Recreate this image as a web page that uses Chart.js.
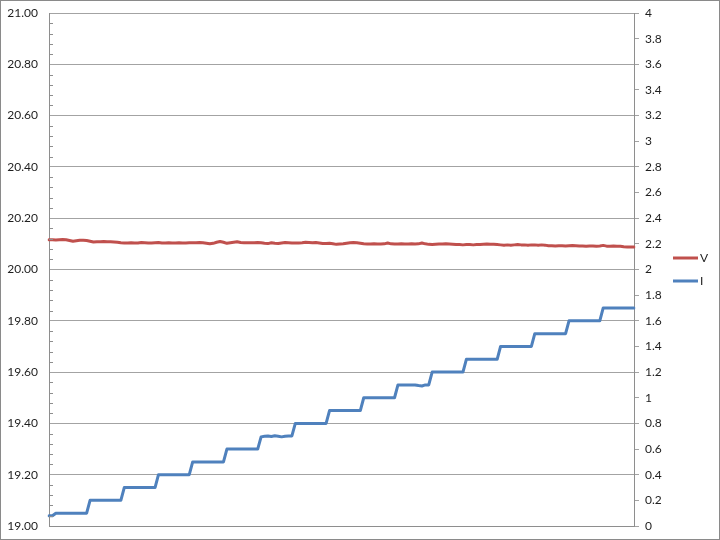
<!DOCTYPE html>
<html>
<head>
<meta charset="utf-8">
<title>V / I</title>
<script src="https://cdn.jsdelivr.net/npm/chart.js@4.4.1/dist/chart.umd.min.js"></script>
<style>
  html, body { margin: 0; padding: 0; background: #fff; }
  #wrap { width: 720px; height: 540px; }
</style>
</head>
<body>
<div id="wrap"><canvas id="chart" width="720" height="540"></canvas></div>
<script>
  // Voltage (left axis, V)
  var voltage = [
    20.116, 20.116, 20.115, 20.116, 20.117, 20.116, 20.113, 20.110, 20.112, 20.114,
    20.114, 20.113, 20.110, 20.107, 20.108, 20.108, 20.109, 20.108, 20.108, 20.107,
    20.106, 20.104, 20.103, 20.103, 20.104, 20.103, 20.103, 20.105, 20.104, 20.103,
    20.103, 20.104, 20.105, 20.103, 20.103, 20.104, 20.103, 20.103, 20.104, 20.103,
    20.103, 20.104, 20.104, 20.104, 20.105, 20.104, 20.102, 20.100, 20.102, 20.106,
    20.109, 20.106, 20.102, 20.104, 20.106, 20.108, 20.105, 20.104, 20.104, 20.104,
    20.104, 20.105, 20.104, 20.102, 20.101, 20.104, 20.102, 20.101, 20.103, 20.105,
    20.104, 20.103, 20.103, 20.103, 20.104, 20.106, 20.105, 20.104, 20.105, 20.103,
    20.101, 20.101, 20.102, 20.100, 20.098, 20.099, 20.100, 20.102, 20.104, 20.105,
    20.104, 20.102, 20.100, 20.099, 20.099, 20.100, 20.099, 20.099, 20.100, 20.103,
    20.100, 20.099, 20.099, 20.100, 20.099, 20.099, 20.100, 20.099, 20.100, 20.103,
    20.100, 20.098, 20.097, 20.098, 20.099, 20.099, 20.100, 20.099, 20.098, 20.097,
    20.097, 20.096, 20.097, 20.097, 20.096, 20.097, 20.097, 20.098, 20.099, 20.098,
    20.098, 20.097, 20.096, 20.095, 20.096, 20.095, 20.096, 20.097, 20.096, 20.096,
    20.095, 20.096, 20.096, 20.095, 20.096, 20.095, 20.093, 20.093, 20.092, 20.093,
    20.093, 20.092, 20.093, 20.094, 20.093, 20.092, 20.092, 20.091, 20.092, 20.092,
    20.091, 20.092, 20.094, 20.091, 20.091, 20.092, 20.091, 20.091, 20.089, 20.088,
    20.088, 20.088
  ];

  // Current (right axis, I)
  var current = [
    0.08, 0.08, 0.1, 0.1, 0.1, 0.1, 0.1, 0.1, 0.1, 0.1,
    0.1, 0.1, 0.2, 0.2, 0.2, 0.2, 0.2, 0.2, 0.2, 0.2,
    0.2, 0.2, 0.3, 0.3, 0.3, 0.3, 0.3, 0.3, 0.3, 0.3,
    0.3, 0.3, 0.4, 0.4, 0.4, 0.4, 0.4, 0.4, 0.4, 0.4,
    0.4, 0.4, 0.5, 0.5, 0.5, 0.5, 0.5, 0.5, 0.5, 0.5,
    0.5, 0.5, 0.6, 0.6, 0.6, 0.6, 0.6, 0.6, 0.6, 0.6,
    0.6, 0.6, 0.695, 0.7, 0.702, 0.698, 0.703, 0.7, 0.695, 0.7,
    0.702, 0.702, 0.8, 0.8, 0.8, 0.8, 0.8, 0.8, 0.8, 0.8,
    0.8, 0.8, 0.9, 0.9, 0.9, 0.9, 0.9, 0.9, 0.9, 0.9,
    0.9, 0.9, 1.0, 1.0, 1.0, 1.0, 1.0, 1.0, 1.0, 1.0,
    1.0, 1.0, 1.1, 1.1, 1.1, 1.1, 1.1, 1.1, 1.095, 1.092,
    1.1, 1.1, 1.2, 1.2, 1.2, 1.2, 1.2, 1.2, 1.2, 1.2,
    1.2, 1.2, 1.3, 1.3, 1.3, 1.3, 1.3, 1.3, 1.3, 1.3,
    1.3, 1.3, 1.4, 1.4, 1.4, 1.4, 1.4, 1.4, 1.4, 1.4,
    1.4, 1.4, 1.5, 1.5, 1.5, 1.5, 1.5, 1.5, 1.5, 1.5,
    1.5, 1.5, 1.6, 1.6, 1.6, 1.6, 1.6, 1.6, 1.6, 1.6,
    1.6, 1.6, 1.7, 1.7, 1.7, 1.7, 1.7, 1.7, 1.7, 1.7,
    1.7, 1.7
  ];

  // sample numbers (not shown on the chart)
  var samples = voltage.map(function (v, i) { return i + 1; });

  var leftAxis = { min: 19, max: 21, step: 0.2, minorStep: 0.04 };
  var rightAxis = { min: 0, max: 4, step: 0.2 };

  var gridColor = '#a3a3a3';
  var axisColor = '#8e8e8e';
  var textColor = '#1e1e1e';
  var fontFamily = 'Lato, "Open Sans", sans-serif';

  // keep the plot area where the layout padding says
  function noPadding(s) {
    s.paddingTop = 0;
    s.paddingBottom = 0;
    s.paddingLeft = 0;
    s.paddingRight = 0;
  }

  // chart frame + minor ticks on the left axis
  var framePlugin = {
    id: 'frame',
    afterDraw: function (chart) {
      var ctx = chart.ctx;
      var y = chart.scales.y;
      ctx.save();
      ctx.strokeStyle = axisColor;
      ctx.lineWidth = 1;
      ctx.beginPath();
      var n = Math.round((leftAxis.max - leftAxis.min) / leftAxis.minorStep);
      for (var k = 0; k <= n; k++) {
        if (k % 5 === 0) continue;
        var py = Math.round(y.getPixelForValue(leftAxis.min + k * leftAxis.minorStep)) + 0.5;
        ctx.moveTo(y.right, py);
        ctx.lineTo(y.right + 4, py);
      }
      ctx.stroke();
      ctx.strokeStyle = '#8a8a8a';
      ctx.strokeRect(0.5, 0.5, chart.width - 1, chart.height - 1);
      ctx.restore();
    }
  };

  // legend on the right, Excel style
  var legendPlugin = {
    id: 'sideLegend',
    afterDraw: function (chart) {
      var ctx = chart.ctx;
      var area = chart.chartArea;
      var x0 = area.right + 39;
      var rows = [258, 281];
      ctx.save();
      ctx.font = '12px ' + fontFamily;
      ctx.textBaseline = 'middle';
      chart.data.datasets.forEach(function (ds, i) {
        var yy = rows[i];
        ctx.strokeStyle = ds.borderColor;
        ctx.lineWidth = 3;
        ctx.beginPath();
        ctx.moveTo(x0, yy);
        ctx.lineTo(x0 + 25, yy);
        ctx.stroke();
        ctx.fillStyle = textColor;
        ctx.fillText(ds.label, x0 + 27, yy);
      });
      ctx.restore();
    }
  };

  var chart = new Chart(document.getElementById('chart').getContext('2d'), {
    type: 'line',
    data: {
      labels: samples,
      datasets: [
        {
          label: 'V',
          data: voltage,
          yAxisID: 'y',
          borderColor: '#c0504d',
          borderWidth: 3,
          pointRadius: 0,
          tension: 0,
          borderJoinStyle: 'round',
          borderCapStyle: 'round'
        },
        {
          label: 'I',
          data: current,
          yAxisID: 'y1',
          borderColor: '#4f81bd',
          borderWidth: 3,
          pointRadius: 0,
          tension: 0,
          borderJoinStyle: 'round',
          borderCapStyle: 'round'
        }
      ]
    },
    options: {
      responsive: false,
      animation: false,
      events: [],
      layout: { padding: { left: 0, right: 0, top: 13, bottom: 14 } },
      plugins: {
        legend: { display: false },
        tooltip: { enabled: false }
      },
      scales: {
        x: {
          type: 'category',
          offset: false,
          ticks: { display: false },
          grid: { display: false },
          border: { display: true, color: axisColor },
          afterFit: function (s) { s.height = 0; noPadding(s); }
        },
        y: {
          position: 'left',
          min: leftAxis.min,
          max: leftAxis.max,
          ticks: {
            stepSize: leftAxis.step,
            padding: 11,
            color: textColor,
            font: { family: fontFamily, size: 12 },
            callback: function (v) { return Number(v).toFixed(2); }
          },
          grid: { color: gridColor, drawTicks: false },
          border: { display: true, color: axisColor },
          afterFit: function (s) { s.width = 49; noPadding(s); }
        },
        y1: {
          position: 'right',
          min: rightAxis.min,
          max: rightAxis.max,
          ticks: {
            stepSize: rightAxis.step,
            padding: 6,
            color: textColor,
            font: { family: fontFamily, size: 12 },
            callback: function (v) { return String(Math.round(v * 10) / 10); }
          },
          grid: { drawOnChartArea: false, drawTicks: true, tickLength: 5, color: gridColor },
          border: { display: true, color: axisColor },
          afterFit: function (s) { s.width = 86; noPadding(s); }
        }
      }
    },
    plugins: [framePlugin, legendPlugin]
  });
</script>
</body>
</html>
